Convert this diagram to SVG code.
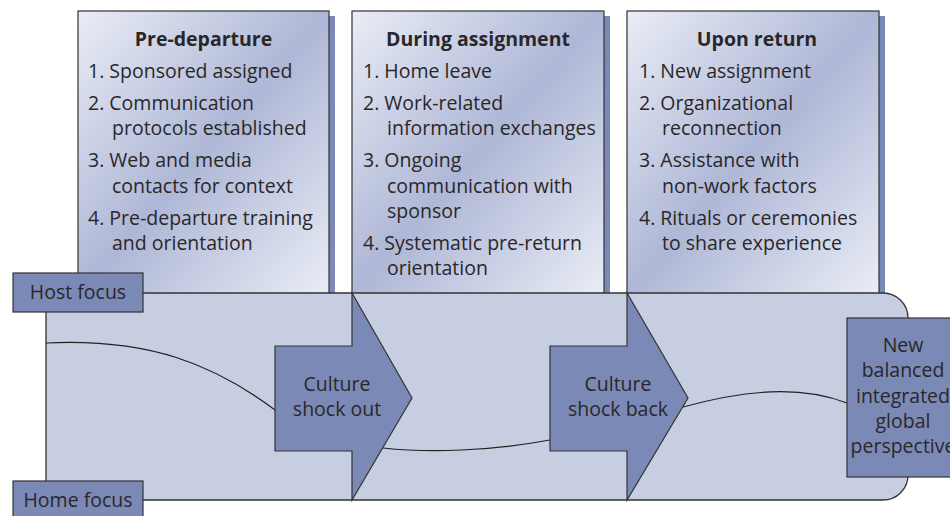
<svg xmlns="http://www.w3.org/2000/svg" width="950" height="516" viewBox="0 0 950 516">
<defs>
<linearGradient id="boxGrad" x1="0" y1="0" x2="1" y2="1">
<stop offset="0" stop-color="#eaedf6"/>
<stop offset="0.5" stop-color="#aeb7d6"/>
<stop offset="1" stop-color="#eaedf6"/>
</linearGradient>
<style>
.box{fill:url(#boxGrad);stroke:#333;stroke-width:1.2}
.shadow{fill:#7b88b8}
.band{fill:#c8cee2;stroke:#333;stroke-width:1.3}
.dark{fill:#7b89b6;stroke:#333;stroke-width:1.2}
.curve{fill:none;stroke:#222;stroke-width:1.2}
text{font-family:"Open Sans","Noto Sans","DejaVu Sans",sans-serif;font-size:19.5px;fill:#2a2728}
.title{font-weight:bold;text-anchor:middle}
.mid{text-anchor:middle}
</style>
</defs>
<g id="box-predeparture">
<rect class="shadow" x="329" y="16" width="6" height="278"/>
<rect class="box" x="78" y="11" width="251" height="283"/>
<text class="title" x="203.5" y="46">Pre-departure</text>
<text x="88" y="78">1. Sponsored assigned</text>
<text x="88" y="110">2. Communication</text>
<text x="112" y="135">protocols established</text>
<text x="88" y="167">3. Web and media</text>
<text x="112" y="193">contacts for context</text>
<text x="88" y="225">4. Pre-departure training</text>
<text x="112" y="250">and orientation</text>
</g>
<g id="box-during">
<rect class="shadow" x="604" y="16" width="6" height="278"/>
<rect class="box" x="352" y="11" width="252" height="283"/>
<text class="title" x="478" y="46">During assignment</text>
<text x="363" y="78">1. Home leave</text>
<text x="363" y="110">2. Work-related</text>
<text x="387" y="135">information exchanges</text>
<text x="363" y="167">3. Ongoing</text>
<text x="387" y="193">communication with</text>
<text x="387" y="218">sponsor</text>
<text x="363" y="250">4. Systematic pre-return</text>
<text x="387" y="275">orientation</text>
</g>
<g id="box-return">
<rect class="shadow" x="879" y="16" width="6" height="278"/>
<rect class="box" x="627" y="11" width="252" height="283"/>
<text class="title" x="757" y="46">Upon return</text>
<text x="639" y="78">1. New assignment</text>
<text x="639" y="110">2. Organizational</text>
<text x="662" y="135">reconnection</text>
<text x="639" y="167">3. Assistance with</text>
<text x="662" y="193">non-work factors</text>
<text x="639" y="225">4. Rituals or ceremonies</text>
<text x="662" y="250">to share experience</text>
</g>
<g id="band">
<path class="band" d="M46,293 H883 A25,25 0 0 1 908,318 V475 A25,25 0 0 1 883,500 H46 Z"/>
</g>
<g id="host-focus">
<rect class="dark" x="13" y="273" width="130" height="39"/>
<text class="mid" x="78" y="299">Host focus</text>
</g>
<g id="home-focus">
<rect class="dark" x="13" y="481" width="130" height="40"/>
<text class="mid" x="78" y="507">Home focus</text>
</g>
<g id="connectors">
<path class="curve" d="M46,343 C150,338 215,365 275,410"/>
<path class="curve" d="M383,448 C430,453 490,451 550,440"/>
<path class="curve" d="M683,407 C745,390 800,385 847,403"/>
</g>
<g id="culture-shock-out">
<path class="dark" d="M275,346 H352 V293 L412,398 L352,500 V451 H275 Z"/>
<text class="mid" x="337" y="391">Culture</text>
<text class="mid" x="337" y="416">shock out</text>
</g>
<g id="culture-shock-back">
<path class="dark" d="M550,346 H627 V293 L688,398 L627,500 V451 H550 Z"/>
<text class="mid" x="618" y="391">Culture</text>
<text class="mid" x="618" y="416">shock back</text>
</g>
<g id="new-perspective">
<rect class="dark" x="847" y="318" width="115" height="159"/>
<text class="mid" x="903" y="352">New</text>
<text class="mid" x="903" y="377">balanced</text>
<text class="mid" x="903" y="403">integrated</text>
<text class="mid" x="903" y="428">global</text>
<text class="mid" x="903" y="453">perspective</text>
</g>
</svg>
